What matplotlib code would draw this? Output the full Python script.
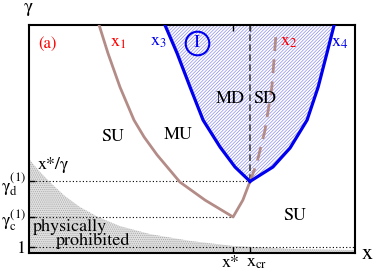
import matplotlib
matplotlib.use('Agg')
import matplotlib.pyplot as plt
from matplotlib.patches import Polygon

plt.rcParams['font.family'] = 'STIXGeneral'
plt.rcParams['mathtext.fontset'] = 'stix'
plt.rcParams['hatch.linewidth'] = 0.5

# characteristic values (axes run 0..100 in both directions)
x_star, x_cr = 62.6, 67.8
gamma_one, gamma_c, gamma_d = 2.6, 15.8, 31.4

# x1 (solid brown), upper branch down to the minimum then up to the vertex
x1_x = [21.5, 24.2, 27.9, 32.2, 35.3, 39.3, 46.3, 54.0, 62.6, 65.6, 67.8]
x1_y = [100.0, 87.7, 72.8, 58.3, 50.9, 43.0, 31.1, 23.2, 15.8, 23.2, 31.4]

# x2 (dashed brown)
x2_x = [67.8, 69.9, 72.4, 74.5, 75.8]
x2_y = [31.4, 39.5, 53.9, 72.8, 96.5]

# x3 and x4 (blue), both ending at the vertex (x_cr, gamma_d)
x3_x = [41.7, 45.4, 49.4, 53.4, 58.6, 63.2, 67.8]
x3_y = [100.0, 87.7, 72.8, 58.3, 46.5, 37.7, 31.4]
x4_x = [67.8, 74.8, 80.1, 85.3, 88.7, 91.4, 93.6]
x4_y = [31.4, 37.7, 46.1, 58.3, 72.8, 87.7, 100.0]

# x*/gamma boundary of the physically prohibited region
pp_x = [0, 3.4, 6.4, 11.0, 15.6, 21.2, 27.9, 37.1, 49.4, 62.6, 80.1, 100]
pp_y = [41.2, 35.5, 31.1, 25.0, 20.2, 15.8, 11.8, 8.3, 5.3, 3.1, 1.8, 1.3]

brown = '#b48c87'
blue = '#0000ee'

fig = plt.figure(figsize=(3.74, 2.75), dpi=100)
ax = fig.add_axes([29/374, 22/275, 326/374, 228/275])
ax.set_xlim(0, 100)
ax.set_ylim(0, 100)

# prohibited region
ax.fill_between(pp_x, 0, pp_y, facecolor='#e0e0e0', edgecolor='#a8a8a8',
                hatch='........', linewidth=0, zorder=1)

# hatched region between x3 and x4
poly = Polygon(list(zip(x3_x, x3_y)) + list(zip(x4_x, x4_y)), closed=True,
               facecolor='white', edgecolor='#8c8cf0', hatch='//////////',
               linewidth=0, zorder=1)
ax.add_patch(poly)

# reference lines
ax.plot([0, x_cr], [gamma_d, gamma_d], color='k', lw=0.8, ls=(0, (1, 2)), zorder=2)
ax.plot([0, x_star], [gamma_c, gamma_c], color='k', lw=0.8, ls=(0, (1, 2)), zorder=2)
ax.plot([0, 100], [gamma_one, gamma_one], color='k', lw=0.8, ls=(0, (1, 2)), zorder=2)
ax.plot([x_cr, x_cr], [gamma_d, 100], color='#404040', lw=1.2, ls=(0, (4, 2)), zorder=2)

ax.plot(x1_x, x1_y, color=brown, lw=2.0, zorder=3)
ax.plot(x2_x, x2_y, color=brown, lw=2.0, ls=(0, (5, 3)), zorder=3)
ax.plot(x3_x, x3_y, color=blue, lw=2.3, zorder=4)
ax.plot(x4_x, x4_y, color=blue, lw=2.3, zorder=4)

# labels inside
fs = 13
ax.text(5.8, 91.7, '(a)', color='red', fontsize=12, ha='center', va='center')
ax.text(27.3, 92.1, r'$\mathrm{x}_{1}$', color='red', fontsize=fs, ha='center', va='center')
ax.text(39.6, 92.5, r'$\mathrm{x}_{3}$', color=blue, fontsize=fs, ha='center', va='center')
ax.text(79.8, 92.5, r'$\mathrm{x}_{2}$', color='red', fontsize=fs, ha='center', va='center')
ax.text(95.4, 92.1, r'$\mathrm{x}_{4}$', color=blue, fontsize=fs, ha='center', va='center')
ax.plot([51.5], [92.1], marker='o', ms=17, mfc='none', mec=blue, mew=1.5, zorder=5)
ax.text(51.5, 92.1, 'I', color=blue, fontsize=fs, ha='center', va='center')
ax.text(61.7, 67.5, 'MD', fontsize=fs, ha='center', va='center')
ax.text(72.4, 67.5, 'SD', fontsize=fs, ha='center', va='center')
ax.text(45.7, 51.8, 'MU', fontsize=fs, ha='center', va='center')
ax.text(25.8, 50.9, 'SU', fontsize=fs, ha='center', va='center')
ax.text(81.6, 16.2, 'SU', fontsize=fs, ha='center', va='center')
ax.text(7.4, 38.6, 'x*/γ', fontsize=fs, ha='center', va='center')
ax.text(12.6, 11.4, 'physically', fontsize=fs, ha='center', va='center')
ax.text(19.6, 5.3, 'prohibited', fontsize=fs, ha='center', va='center')

# axis labels
ax.text(-0.3, 105.8, 'γ', fontsize=14, ha='center', va='baseline', clip_on=False)
ax.text(103.7, -0.4, 'x', fontsize=16, ha='center', va='center', clip_on=False)

# x tick labels placed by hand so they do not collide
ax.set_xticks([x_star, x_cr], ['', ''])
ax.text(62.0, -4.4, 'x*', fontsize=13, ha='center', va='center', clip_on=False)
ax.text(69.9, -4.4, r'$\mathrm{x}_{\mathrm{cr}}$', fontsize=13, ha='center', va='center',
        clip_on=False)
ax.set_yticks([gamma_one, gamma_c, gamma_d],
              ['1', r'$\mathrm{γ}_{\mathrm{c}}^{(1)}$', r'$\mathrm{γ}_{\mathrm{d}}^{(1)}$'])
ax.tick_params(direction='in', length=4, width=1, labelsize=13, top=True, pad=2)
for s in ax.spines.values():
    s.set_linewidth(1.5)

fig.savefig('out.png', dpi=100)
